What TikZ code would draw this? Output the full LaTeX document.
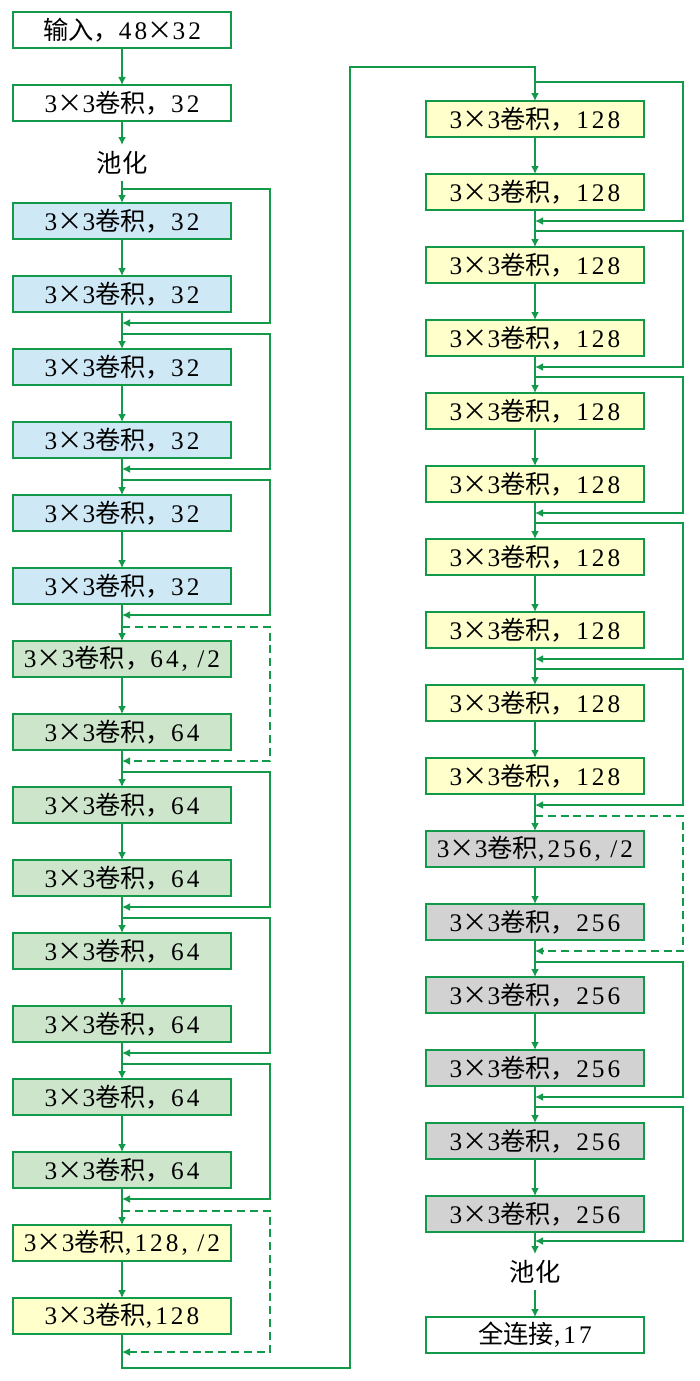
\documentclass[tikz,border=0pt]{standalone}
\usepackage{fontspec}
\setmainfont{Liberation Serif}[LetterSpace=12]
\newfontfamily\cjk{Noto Sans CJK SC}
\usepackage{tikz}
\usetikzlibrary{positioning,arrows.meta}
\definecolor{conn}{HTML}{12994A}
\definecolor{cblue}{HTML}{CFE8F6}
\definecolor{cgreen}{HTML}{CDE5CB}
\definecolor{cyellow}{HTML}{FFFFCC}
\definecolor{cgray}{HTML}{D2D2D2}
\newcommand{\zh}[1]{{\cjk #1}}

\begin{document}
\begin{tikzpicture}[
  box/.style={draw=conn, line width=1.4pt, minimum width=5.45cm, minimum height=0.9cm,
              inner sep=0pt, outer sep=0pt, font=\fontsize{18}{20}\selectfont},
  txt/.style={minimum height=0.9cm, inner sep=0pt, outer sep=0pt, font=\fontsize{18}{20}\selectfont},
  arr/.style={-{Latex[length=2mm,width=2mm]}, line width=1.3pt, conn},
  res/.style={arr, line width=1.2pt},
  resd/.style={res, dash pattern=on 2mm off 1.2mm},
  node distance=0.925cm
]
  \useasboundingbox (0,0) rectangle (17.5,-34.525);
  % left column
  \node[box] (in) at (3.05,-0.75) {\zh{输入，}48\zh{×}32};
  \node[box, below=of in] (c0) {3\zh{×}3\zh{卷积，}32};
  \node[txt, below=0.6cm of c0] (p1) {\zh{池化}};
  \node[box, fill=cblue, below=0.55cm of p1] (b1) {3\zh{×}3\zh{卷积，}32};
  \node[box, fill=cblue, below=of b1] (b2) {3\zh{×}3\zh{卷积，}32};
  \node[box, fill=cblue, below=of b2] (b3) {3\zh{×}3\zh{卷积，}32};
  \node[box, fill=cblue, below=of b3] (b4) {3\zh{×}3\zh{卷积，}32};
  \node[box, fill=cblue, below=of b4] (b5) {3\zh{×}3\zh{卷积，}32};
  \node[box, fill=cblue, below=of b5] (b6) {3\zh{×}3\zh{卷积，}32};
  \node[box, fill=cgreen, below=of b6] (g1) {3\zh{×}3\zh{卷积，}64, /2};
  \node[box, fill=cgreen, below=of g1] (g2) {3\zh{×}3\zh{卷积，}64};
  \node[box, fill=cgreen, below=of g2] (g3) {3\zh{×}3\zh{卷积，}64};
  \node[box, fill=cgreen, below=of g3] (g4) {3\zh{×}3\zh{卷积，}64};
  \node[box, fill=cgreen, below=of g4] (g5) {3\zh{×}3\zh{卷积，}64};
  \node[box, fill=cgreen, below=of g5] (g6) {3\zh{×}3\zh{卷积，}64};
  \node[box, fill=cgreen, below=of g6] (g7) {3\zh{×}3\zh{卷积，}64};
  \node[box, fill=cgreen, below=of g7] (g8) {3\zh{×}3\zh{卷积，}64};
  \node[box, fill=cyellow, below=of g8] (y1) {3\zh{×}3\zh{卷积},128, /2};
  \node[box, fill=cyellow, below=of y1] (y2) {3\zh{×}3\zh{卷积},128};
  % right column
  \node[box, fill=cyellow] (r1) at (13.375,-2.975) {3\zh{×}3\zh{卷积，}128};
  \node[box, fill=cyellow, below=of r1] (r2) {3\zh{×}3\zh{卷积，}128};
  \node[box, fill=cyellow, below=of r2] (r3) {3\zh{×}3\zh{卷积，}128};
  \node[box, fill=cyellow, below=of r3] (r4) {3\zh{×}3\zh{卷积，}128};
  \node[box, fill=cyellow, below=of r4] (r5) {3\zh{×}3\zh{卷积，}128};
  \node[box, fill=cyellow, below=of r5] (r6) {3\zh{×}3\zh{卷积，}128};
  \node[box, fill=cyellow, below=of r6] (r7) {3\zh{×}3\zh{卷积，}128};
  \node[box, fill=cyellow, below=of r7] (r8) {3\zh{×}3\zh{卷积，}128};
  \node[box, fill=cyellow, below=of r8] (r9) {3\zh{×}3\zh{卷积，}128};
  \node[box, fill=cyellow, below=of r9] (r10) {3\zh{×}3\zh{卷积，}128};
  \node[box, fill=cgray, below=of r10] (s1) {3\zh{×}3\zh{卷积},256, /2};
  \node[box, fill=cgray, below=of s1] (s2) {3\zh{×}3\zh{卷积，}256};
  \node[box, fill=cgray, below=of s2] (s3) {3\zh{×}3\zh{卷积，}256};
  \node[box, fill=cgray, below=of s3] (s4) {3\zh{×}3\zh{卷积，}256};
  \node[box, fill=cgray, below=of s4] (s5) {3\zh{×}3\zh{卷积，}256};
  \node[box, fill=cgray, below=of s5] (s6) {3\zh{×}3\zh{卷积，}256};
  \node[txt, below=0.55cm of s6] (p2) {\zh{池化}};
  \node[box, below=0.675cm of p2] (fc) {\zh{全连接},17};

  % main flow
  \draw[arr] (in) -- (c0);  \draw[arr] (c0) -- (p1);  \draw[arr] (p1) -- (b1);
  \draw[arr] (b1) -- (b2);  \draw[arr] (b2) -- (b3);  \draw[arr] (b3) -- (b4);
  \draw[arr] (b4) -- (b5);  \draw[arr] (b5) -- (b6);  \draw[arr] (b6) -- (g1);
  \draw[arr] (g1) -- (g2);  \draw[arr] (g2) -- (g3);  \draw[arr] (g3) -- (g4);
  \draw[arr] (g4) -- (g5);  \draw[arr] (g5) -- (g6);  \draw[arr] (g6) -- (g7);
  \draw[arr] (g7) -- (g8);  \draw[arr] (g8) -- (y1);  \draw[arr] (y1) -- (y2);
  \draw[arr] (y2.south) -- ++(0,-0.85) -- ++(5.7,0) |- ([yshift=0.85cm]r1.north) -- (r1.north);
  \draw[arr] (r1) -- (r2);  \draw[arr] (r2) -- (r3);  \draw[arr] (r3) -- (r4);
  \draw[arr] (r4) -- (r5);  \draw[arr] (r5) -- (r6);  \draw[arr] (r6) -- (r7);
  \draw[arr] (r7) -- (r8);  \draw[arr] (r8) -- (r9);  \draw[arr] (r9) -- (r10);
  \draw[arr] (r10) -- (s1); \draw[arr] (s1) -- (s2);  \draw[arr] (s2) -- (s3);
  \draw[arr] (s3) -- (s4);  \draw[arr] (s4) -- (s5);  \draw[arr] (s5) -- (s6);
  \draw[arr] (s6) -- (p2);  \draw[arr] (p2) -- (fc);

  % shortcuts, left
  \draw[res] ([yshift=0.35cm]b1.north) -- ++(3.7,0) |- ([yshift=-0.275cm]b2.south);
  \draw[res] ([yshift=0.375cm]b3.north) -- ++(3.7,0) |- ([yshift=-0.275cm]b4.south);
  \draw[res] ([yshift=0.375cm]b5.north) -- ++(3.7,0) |- ([yshift=-0.275cm]b6.south);
  \draw[resd] ([yshift=0.35cm]g1.north) -- ++(3.7,0) |- ([yshift=-0.275cm]g2.south);
  \draw[res] ([yshift=0.375cm]g3.north) -- ++(3.7,0) |- ([yshift=-0.275cm]g4.south);
  \draw[res] ([yshift=0.375cm]g5.north) -- ++(3.7,0) |- ([yshift=-0.275cm]g6.south);
  \draw[res] ([yshift=0.375cm]g7.north) -- ++(3.7,0) |- ([yshift=-0.275cm]g8.south);
  \draw[resd] ([yshift=0.35cm]y1.north) -- ++(3.7,0) |- ([yshift=-0.45cm]y2.south);
  % shortcuts, right
  \draw[res] ([yshift=0.475cm]r1.north) -- ++(3.7,0) |- ([yshift=-0.275cm]r2.south);
  \draw[res] ([yshift=0.4cm]r3.north) -- ++(3.7,0) |- ([yshift=-0.275cm]r4.south);
  \draw[res] ([yshift=0.4cm]r5.north) -- ++(3.7,0) |- ([yshift=-0.275cm]r6.south);
  \draw[res] ([yshift=0.4cm]r7.north) -- ++(3.7,0) |- ([yshift=-0.275cm]r8.south);
  \draw[res] ([yshift=0.4cm]r9.north) -- ++(3.7,0) |- ([yshift=-0.275cm]r10.south);
  \draw[resd] ([yshift=0.375cm]s1.north) -- ++(3.7,0) |- ([yshift=-0.275cm]s2.south);
  \draw[res] ([yshift=0.375cm]s3.north) -- ++(3.7,0) |- ([yshift=-0.275cm]s4.south);
  \draw[res] ([yshift=0.4cm]s5.north) -- ++(3.7,0) |- ([yshift=-0.225cm]s6.south);
\end{tikzpicture}
\end{document}
